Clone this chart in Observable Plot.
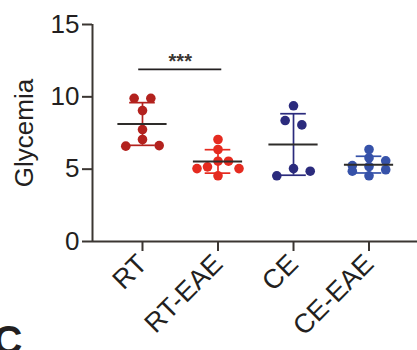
<!DOCTYPE html>
<html>
<head>
<meta charset="utf-8">
<script src="https://cdn.jsdelivr.net/npm/d3@7"></script>
<script src="https://cdn.jsdelivr.net/npm/@observablehq/plot@0.6"></script>
<style>
  html, body { margin: 0; padding: 0; background: #fff; }
  #chart { width: 417px; height: 350px; overflow: hidden; }
</style>
</head>
<body>
<div id="chart"></div>
<script>
// ---- data ----
const groups = ["RT", "RT-EAE", "CE", "CE-EAE"];
const rtValues = [9.9, 9.9, 9.05, 7.74, 7.05, 6.63, 6.59];
const rtEaeValues = [7.05, 6.36, 5.55, 5.55, 5.16, 5.04, 5.04, 4.54];
const ceValues = [9.38, 8.36, 8.06, 5.04, 4.86, 4.54];
const ceEaeValues = [6.36, 5.78, 5.58, 5.25, 5.18, 4.96, 4.86, 4.54];
const groupColors = ["#b3221e", "#e52b20", "#2b2b7d", "#3652a9"];
const yTicks = [0, 5, 10, 15];
const yLabel = "Glycemia";
const sigFrom = ["RT"];
const sigTo = ["RT-EAE"];
const sigLevel = [11.9];
const sigLabel = ["***"];
const panelLetter = "C";

// ---- build tables ----
const seriesValues = [rtValues, rtEaeValues, ceValues, ceEaeValues];
const pxPerGroup = 75.5;

// scatter layout: group near-equal values into rows, spread each row symmetrically
function scatterOffsets(vals) {
  const idx = vals.map((v, i) => ({v, i})).sort((a, b) => b.v - a.v);
  const offs = new Array(vals.length).fill(0);
  let rows = [], cur = [];
  for (const p of idx) {
    if (cur.length && cur[0].v - p.v >= 0.55) { rows.push(cur); cur = []; }
    cur.push(p);
  }
  if (cur.length) rows.push(cur);
  for (const row of rows) {
    const n = row.length;
    const s = n > 1 ? Math.min(16.7, 42 / (n - 1)) : 0;
    const slots = [];
    if (n % 2) { slots.push(0); for (let k = 1; slots.length < n; k++) { slots.push(k); if (slots.length < n) slots.push(-k); } }
    else { for (let k = 0.5; slots.length < n; k++) { slots.push(-k); if (slots.length < n) slots.push(k); } }
    row.forEach((p, j) => offs[p.i] = slots[j] * s / pxPerGroup);
  }
  return offs;
}

const points = [];
const stats = [];
groups.forEach((g, gi) => {
  const vals = seriesValues[gi];
  const offs = scatterOffsets(vals);
  vals.forEach((v, i) => points.push({group: g, gi, value: v, off: offs[i]}));
  const m = d3.mean(vals), sd = d3.deviation(vals);
  stats.push({group: g, gi, mean: m, lo: m - sd, hi: m + sd});
});
const sig = sigFrom.map((f, i) => ({a: groups.indexOf(f), b: groups.indexOf(sigTo[i]), y: sigLevel[i], label: sigLabel[i]}));

const axisColor = "#3b3632";
const textColor = "#231f20";
const meanHalf = 24.6 / pxPerGroup;
const capHalf = 12.8 / pxPerGroup;

const plot = Plot.plot({
  width: 417,
  height: 350,
  marginLeft: 92,
  marginRight: 0,
  marginTop: 24,
  marginBottom: 109,
  style: {fontFamily: "'Liberation Sans', Arial, sans-serif", fontSize: "26px", color: textColor, background: "#fff", overflow: "visible"},
  x: {domain: [-0.662, 3.642]},
  y: {domain: [0, 15]},
  color: {domain: groups, range: groupColors},
  marks: [
    Plot.ruleY([0], {stroke: axisColor, strokeWidth: 2}),
    Plot.ruleX([-0.662], {y1: 0, y2: 15, stroke: axisColor, strokeWidth: 2}),
    Plot.axisY({ticks: yTicks, tickSize: 10, tickPadding: 3, fontSize: 26, label: null, stroke: axisColor, strokeWidth: 2, color: textColor}),
    Plot.axisX({ticks: [0, 1, 2, 3], tickFormat: i => groups[i], tickRotate: -45, tickSize: 10, tickPadding: 8, fontSize: 27, label: null, stroke: axisColor, strokeWidth: 2}),
    Plot.text([yLabel], {frameAnchor: "left", dx: -68, rotate: -90, fontSize: 26, textAnchor: "middle", lineAnchor: "middle", fill: textColor}),
    Plot.dot(points, {x: d => d.gi + d.off, y: "value", r: 4.8, fill: "group", stroke: "none"}),
    Plot.ruleX(stats, {x: "gi", y1: "lo", y2: "hi", stroke: "group", strokeWidth: 1.7}),
    Plot.ruleY(stats, {y: "hi", x1: d => d.gi - capHalf, x2: d => d.gi + capHalf, stroke: "group", strokeWidth: 1.7}),
    Plot.ruleY(stats, {y: "lo", x1: d => d.gi - capHalf, x2: d => d.gi + capHalf, stroke: "group", strokeWidth: 1.7}),
    Plot.ruleY(stats, {y: "mean", x1: d => d.gi - meanHalf, x2: d => d.gi + meanHalf, stroke: "#2e2c2a", strokeWidth: 2}),
    Plot.ruleY(sig, {y: "y", x1: d => d.a - 0.05, x2: d => d.b + 0.05, stroke: textColor, strokeWidth: 1.8}),
    Plot.text(sig, {x: d => (d.a + d.b) / 2, y: "y", text: "label", dy: -1, fontSize: 20, fontWeight: "bold", fill: "#3a3633", lineAnchor: "bottom"})
  ]
});

d3.select(plot).append("text")
  .attr("x", 8).attr("y", 354)
  .attr("font-size", 40).attr("font-weight", "bold")
  .attr("fill", textColor)
  .attr("font-family", "'Liberation Sans', Arial, sans-serif")
  .text(panelLetter);

document.getElementById("chart").appendChild(plot);
</script>
</body>
</html>
